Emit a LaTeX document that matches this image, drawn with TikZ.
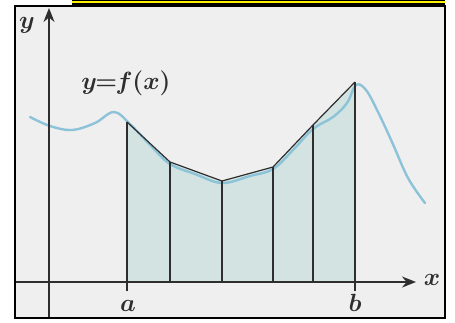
\documentclass[tikz,border=0pt]{standalone}
\usetikzlibrary{arrows.meta}
\definecolor{paper}{HTML}{EFEFEF}
\definecolor{trapfill}{HTML}{D2E3E1}
\definecolor{curveblue}{HTML}{8CC3D8}
\definecolor{ink}{HTML}{2E2E2E}
\definecolor{barYellow}{HTML}{FFF200}
\begin{document}
\begin{tikzpicture}[x=1pt,y=-1pt,
  axis/.style={ink,line width=1.5pt,-{Stealth[length=14pt,width=11pt]}},
  chord/.style={ink,line width=1.2pt,line join=round},
  lbl/.style={font=\fontsize{30}{34}\selectfont\boldmath,text=ink,inner sep=0pt}]
\useasboundingbox (0,0) rectangle (455,322);
% top bar
\fill[black] (72,0) rectangle (445,4.5);
\fill[barYellow] (72,1.2) rectangle (445,3.3);
% frame
\draw[black,line width=2pt,fill=paper] (15,6) rectangle (445,318);
% partition points
\coordinate (p0) at (127,122);
\coordinate (p1) at (170,162);
\coordinate (p2) at (222,181);
\coordinate (p3) at (273,167);
\coordinate (p4) at (313,125);
\coordinate (p5) at (355,82);
\coordinate (q0) at (127,282);
\coordinate (q1) at (170,282);
\coordinate (q2) at (222,282);
\coordinate (q3) at (273,282);
\coordinate (q4) at (313,282);
\coordinate (q5) at (355,282);
% trapezoids
\fill[trapfill] (q0) -- (p0) -- (p1) -- (p2) -- (p3) -- (p4) -- (p5) -- (q5) -- cycle;
% curve
\draw[curveblue,line width=2.4pt,line cap=round] plot[smooth,tension=0.6] coordinates
 {(30,117) (50,126) (72,130) (95,123) (114,112) (130,124) (152,147) (170,164) (195,174) (222,183) (250,176) (273,169) (293,150) (313,129) (333,117) (347,103) (356,85) (366,90) (378,112) (392,142) (408,178) (425,203)};
% chords and verticals
\draw[chord] (p0) -- (p1) -- (p2) -- (p3) -- (p4) -- (p5);
\foreach \i in {1,2,3,4} \draw[chord] (q\i) -- (p\i);
\coordinate (ta) at (127,291);
\coordinate (tb) at (355,291);
\draw[chord] (ta) -- (p0);
\draw[chord] (tb) -- (p5);
% axes
\coordinate (xs) at (16,282);
\coordinate (xe) at (416,282);
\coordinate (ys) at (49,317);
\coordinate (ye) at (49,8);
\draw[axis] (xs) -- (xe);
\draw[axis] (ys) -- (ye);
% labels
\node[lbl] (ylab) at (27,25) {$y$};
\node[lbl] (xlab) at (432,280) {$x$};
\node[lbl] (alab) at (128,306) {$a$};
\node[lbl] (blab) at (355,303) {$b$};
\node[lbl] (flab) at (126,83) {$y\!\!=\!\!f(x)$};
\end{tikzpicture}
\end{document}
